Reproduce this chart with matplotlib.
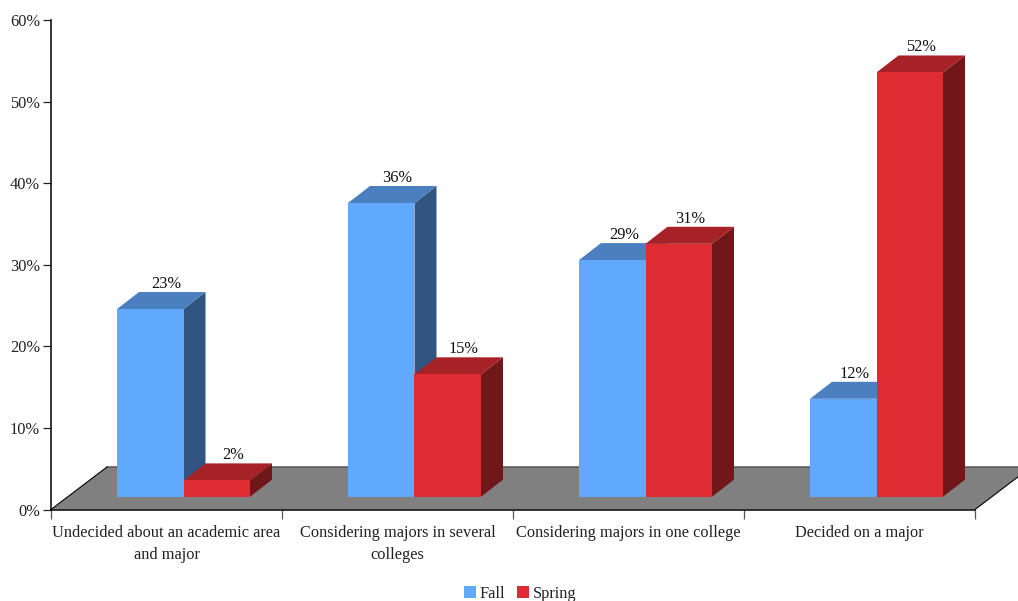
import matplotlib
matplotlib.use('Agg')
import matplotlib.pyplot as plt
from matplotlib.patches import Patch, Polygon

categories = ['Undecided about an academic area\nand major',
              'Considering majors in several\ncolleges',
              'Considering majors in one college',
              'Decided on a major']
fall = [23, 36, 29, 12]
spring = [2, 15, 31, 52]
yticks = [0, 10, 20, 30, 40, 50, 60]

W, H = 1018, 601
FS = 11.8
plt.rcParams['font.family'] = ['Liberation Serif', 'DejaVu Serif']

fig = plt.figure(figsize=(W / 100, H / 100), dpi=100)
ax = fig.add_axes([51 / W, 1 - 509.5 / H, 924 / W, 489.5 / H])
ax.set_xlim(0, 4)
ax.set_ylim(0, 60)

# pixel sizes turned into data units
px_x = 4 / 924
px_y = 60 / 489.5
dx = 22 * px_x
dy = 17 * px_y
base = 12.8 * px_y
bar_w = 66.5 * px_x
pad = 66 * px_x


def poly(pts, color, z):
    ax.add_patch(Polygon(pts, closed=True, facecolor=color, edgecolor='none',
                         zorder=z, clip_on=False))


def box(x, val, front, top, side, z):
    y0, y1 = base, base + val
    poly([(x + bar_w, y0), (x + bar_w + dx, y0 + dy),
          (x + bar_w + dx, y1 + dy), (x + bar_w, y1)], side, z)
    poly([(x, y1), (x + dx, y1 + dy), (x + bar_w + dx, y1 + dy), (x + bar_w, y1)], top, z)
    poly([(x, y0), (x + bar_w, y0), (x + bar_w, y1), (x, y1)], front, z)


# floor
floor_h = 42.5 * px_y
floor_dx = 56 * px_x
poly([(0, 0), (floor_dx, floor_h), (4 + floor_dx, floor_h), (4, 0)], '#808080', 1)
ax.plot([floor_dx, 4 + floor_dx], [floor_h, floor_h], color='#555555', lw=1.1, zorder=2, clip_on=False)
ax.plot([0, floor_dx], [0, floor_h], color='black', lw=0.8, zorder=2, clip_on=False)
ax.plot([4, 4 + floor_dx], [0, floor_h], color='black', lw=0.8, zorder=2, clip_on=False)

label_dx = [16, 16, 11.5, 11.5]
for i in range(len(categories)):
    x = i + pad
    box(x, fall[i], '#61A8FF', '#4B7FC0', '#315580', 3 + i * 2)
    box(x + bar_w, spring[i], '#DF2C32', '#A62227', '#701719', 4 + i * 2)
    for xx, v in ((x, fall[i]), (x + bar_w, spring[i])):
        ax.text(xx + bar_w / 2 + label_dx[i] * px_x, base + v + 25 * px_y, '%d%%' % v,
                ha='center', va='center', fontsize=FS, color='#111111', zorder=20)

ax.set_yticks(yticks)
ax.set_yticklabels(['%d%%' % v for v in yticks], fontsize=FS, color='#222222')
ax.tick_params(axis='y', length=5.8, width=0.9, color='#222222', pad=2.2)
ax.set_xticks(range(5))
ax.set_xticklabels([])
ax.tick_params(axis='x', which='major', length=6.5, width=0.9, color='#555555')
ax.set_xticks([i + 0.5 for i in range(4)], minor=True)
ax.set_xticklabels(categories, minor=True, fontsize=FS, color='#222222', linespacing=1.45)
ax.tick_params(axis='x', which='minor', length=0, pad=11.5)

for s in ('top', 'right'):
    ax.spines[s].set_visible(False)
ax.spines['left'].set_linewidth(1.1)
ax.spines['bottom'].set_linewidth(1.1)
ax.spines['left'].set_zorder(30)
ax.spines['bottom'].set_zorder(30)
ax.patch.set_visible(False)

handles = [Patch(facecolor='#61A8FF', label='Fall'), Patch(facecolor='#DF2C32', label='Spring')]
fig.legend(handles=handles, loc='center', bbox_to_anchor=(520 / W, 1 - 593.5 / H), ncol=2,
           frameon=False, fontsize=FS, handlelength=0.75, handleheight=0.75,
           handletextpad=0.2, columnspacing=0.75, borderpad=0, labelcolor='#222222')

fig.savefig('out.png', dpi=100)
